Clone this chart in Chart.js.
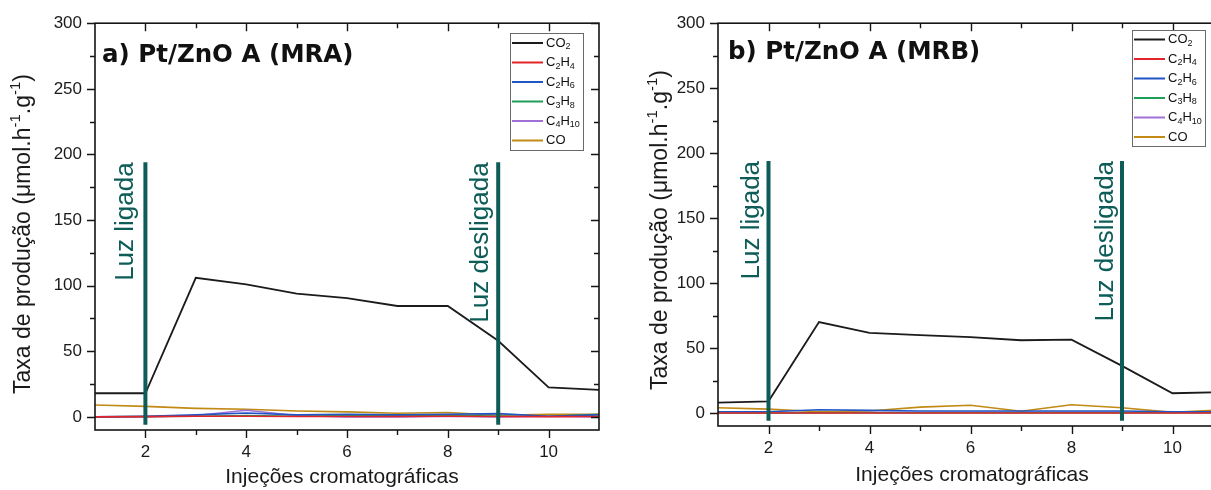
<!DOCTYPE html>
<html>
<head>
<meta charset="utf-8">
<script src="https://cdn.jsdelivr.net/npm/chart.js@4.4.1/dist/chart.umd.min.js"></script>
<style>
  html, body { margin: 0; padding: 0; background: #fff; overflow: hidden; width: 1211px; height: 490px; }
  .panel { position: absolute; top: 0; }
  #panelA { left: 0; }
  #panelB { left: 610px; }
</style>
</head>
<body>
<canvas id="panelA" class="panel" width="610" height="490"></canvas>
<canvas id="panelB" class="panel" width="640" height="490"></canvas>
<script>
// Injection number (x) and axis ticks
const injections = [1, 2, 3, 4, 5, 6, 7, 8, 9, 10, 11];
const xTicks = [2, 4, 6, 8, 10];
const xMinorTicks = [3, 5, 7, 9];
const yTicks = [0, 50, 100, 150, 200, 250, 300];
const yMinorTicks = [25, 75, 125, 175, 225, 275];

// Gas names and line colours
const gases = ['CO2', 'C2H4', 'C2H6', 'C3H8', 'C4H10', 'CO'];
const gasColors = ['#1b1b1b', '#e3242b', '#1f55c6', '#1f9e57', '#a070d6', '#c08a14'];

// Production rate (µmol.h-1.g-1), reactor MRA
const co2MRA  = [18, 18, 106, 101, 94, 90.5, 84.5, 84.5, 58, 22.5, 20.5];
const c2h4MRA = [0, 0.2, 0.5, 0.5, 0.3, 0.3, 0.3, 0.5, 0.3, 0.2, 0.3];
const c2h6MRA = [0, 0.5, 1.5, 3, 1.5, 2, 1.5, 2, 2.5, 0.5, 1.5];
const c3h8MRA = [0, 0.3, 0.5, 1, 0.5, 1, 1, 1.5, 0.5, 0.5, 2];
const c4h10MRA = [0, 0, 1, 5, 1, 0, 0, 0.5, 0, 0.5, 0];
const coMRA   = [9, 8, 6.5, 5.8, 4.5, 3.8, 2.8, 3.3, 1.2, 2, 2];

// Production rate (µmol.h-1.g-1), reactor MRB
const co2MRB  = [8, 9, 70, 61.7, 60, 58.4, 56, 56.5, 36.3, 15.2, 16];
const c2h4MRB = [0, 0, 0, 0, 0, 0, 0, 0, 0, 0, 0];
const c2h6MRB = [1, 1, 2.5, 2, 1.5, 1.5, 1.5, 1.5, 1.5, 1, 1];
const c3h8MRB = [0, 0, 0.2, 0.2, 0.2, 0.2, 0.2, 0.2, 0.2, 0.2, 0.2];
const c4h10MRB = [0, 0, 0.2, 0.3, 0.3, 0.5, 0.5, 0.5, 0.5, 0.5, 0.5];
const coMRB   = [4, 3, 1, 1.5, 4.5, 6, 1.3, 6.3, 4, 0.5, 2.5];

// Light switched on / off (injection number) and the marker extent
const lightOn = 2;
const lightOff = 9;
const markerTop = 194;
const markerBottom = -6;

const TEAL = '#0d5c58';
const SANS = '"Liberation Sans", Arial, sans-serif';

// Draws a string where digits after letters become subscripts (chemical formulas)
function drawFormula(ctx, text, x, y, size) {
  const parts = text.match(/[A-Za-z]+|\d+/g);
  let cx = x;
  parts.forEach(p => {
    const isSub = /\d/.test(p);
    ctx.font = (isSub ? Math.round(size * 0.7) : size) + 'px ' + SANS;
    ctx.fillText(p, cx, isSub ? y + size * 0.3 : y);
    cx += ctx.measureText(p).width;
  });
}

// Draws a string made of [text, isSuperscript] pieces
function drawRich(ctx, pieces, x, y, size, align) {
  let total = 0;
  pieces.forEach(([t, sup]) => {
    ctx.font = (sup ? Math.round(size * 0.65) : size) + 'px ' + SANS;
    total += ctx.measureText(t).width;
  });
  let cx = align === 'center' ? x - total / 2 : x;
  pieces.forEach(([t, sup]) => {
    ctx.font = (sup ? Math.round(size * 0.65) : size) + 'px ' + SANS;
    ctx.fillText(t, cx, sup ? y - size * 0.42 : y);
    cx += ctx.measureText(t).width;
  });
}

const yTitle = [['Taxa de produção (μmol.h', false], ['-1', true], ['.g', false], ['-1', true], [')', false]];
const xTitle = [['Injeções cromatográficas', false]];

const framePlugin = {
  id: 'frame',
  afterDatasetsDraw(chart, args, opts) {
    const { ctx, chartArea: { left, right, top, bottom }, scales: { x, y } } = chart;
    ctx.save();
    // light on/off markers with their labels
    [[lightOn, 'Luz ligada', opts.onGap], [lightOff, 'Luz desligada', opts.offGap]].forEach(([v, label, gap]) => {
      const px = x.getPixelForValue(v);
      const y1 = y.getPixelForValue(markerTop);
      const y2 = y.getPixelForValue(markerBottom);
      ctx.strokeStyle = TEAL;
      ctx.lineWidth = 4;
      ctx.beginPath();
      ctx.moveTo(px, y1);
      ctx.lineTo(px, y2);
      ctx.stroke();
      ctx.save();
      ctx.translate(px - gap, y1);
      ctx.rotate(-Math.PI / 2);
      ctx.fillStyle = TEAL;
      ctx.font = '26px ' + SANS;
      ctx.textAlign = 'right';
      ctx.textBaseline = 'alphabetic';
      ctx.fillText(label, 0, 0);
      ctx.restore();
    });
    // axis frame
    ctx.strokeStyle = '#151515';
    ctx.lineWidth = 1.6;
    ctx.strokeRect(left, top, right - left, bottom - top);
    ctx.lineWidth = 1.4;
    const major = 8, minor = 5;
    ctx.beginPath();
    xTicks.concat(xMinorTicks).forEach(v => {
      const px = Math.round(x.getPixelForValue(v)) + 0.5;
      const len = xTicks.includes(v) ? major : minor;
      ctx.moveTo(px, bottom); ctx.lineTo(px, bottom + len);
      ctx.moveTo(px, top); ctx.lineTo(px, top + len);
    });
    yTicks.concat(yMinorTicks).forEach(v => {
      const py = Math.round(y.getPixelForValue(v)) + 0.5;
      const len = yTicks.includes(v) ? major : minor;
      ctx.moveTo(left, py); ctx.lineTo(left - len, py);
      ctx.moveTo(right, py); ctx.lineTo(right - len, py);
    });
    ctx.stroke();
    ctx.restore();
  },
  afterDraw(chart, args, opts) {
    const { ctx } = chart;
    ctx.save();
    // panel title
    ctx.fillStyle = '#111';
    ctx.font = 'bold 24.5px "DejaVu Sans", Verdana, sans-serif';
    ctx.textBaseline = 'alphabetic';
    ctx.fillText(opts.title, opts.titleX, opts.titleY);
    // axis titles
    ctx.fillStyle = '#1a1a1a';
    drawRich(ctx, xTitle, opts.xTitleX, opts.xTitleY, 21, 'center');
    ctx.save();
    ctx.translate(opts.yTitleX, opts.yTitleY);
    ctx.rotate(-Math.PI / 2);
    drawRich(ctx, yTitle, 0, 7, 23, 'center');
    ctx.restore();
    // legend box
    const lg = opts.legend;
    ctx.fillStyle = '#fff';
    ctx.fillRect(lg.x, lg.y, lg.w, lg.h);
    ctx.strokeStyle = '#6a6a6a';
    ctx.lineWidth = 1;
    ctx.strokeRect(lg.x + 0.5, lg.y + 0.5, lg.w, lg.h);
    chart.data.datasets.forEach((ds, i) => {
      const ry = lg.y + lg.first + i * lg.step;
      ctx.strokeStyle = ds.borderColor;
      ctx.lineWidth = 2;
      ctx.beginPath();
      ctx.moveTo(lg.x + 2, ry);
      ctx.lineTo(lg.x + 33, ry);
      ctx.stroke();
      ctx.fillStyle = '#111';
      ctx.textBaseline = 'middle';
      drawFormula(ctx, ds.label, lg.x + 36, ry, 13);
    });
    ctx.restore();
  }
};

function buildDatasets(series) {
  return series.map((vals, i) => ({
    label: gases[i],
    data: vals.map((v, k) => ({ x: injections[k], y: v })),
    borderColor: gasColors[i],
    backgroundColor: gasColors[i],
    borderWidth: i === 0 ? 1.8 : 1.6,
    pointRadius: 0,
    tension: 0,
    fill: false
  }));
}

function makePanel(id, series, layout, frameOpts) {
  const tickFont = { family: SANS, size: 17 };
  return new Chart(document.getElementById(id), {
    type: 'line',
    data: { datasets: buildDatasets(series) },
    options: {
      responsive: false,
      animation: false,
      events: [],
      layout: { padding: { left: 0, top: layout.top, right: layout.right, bottom: 0 } },
      plugins: { legend: { display: false }, tooltip: { enabled: false }, frame: frameOpts },
      scales: {
        x: {
          type: 'linear', min: 1, max: 11,
          afterBuildTicks: s => { s.ticks = xTicks.map(v => ({ value: v })); },
          afterFit: s => { s.height = layout.xHeight; },
          grid: { display: false, drawTicks: false },
          border: { display: false },
          ticks: { font: tickFont, color: '#1a1a1a', padding: 12, maxRotation: 0, autoSkip: false }
        },
        y: {
          type: 'linear', min: -10, max: 300,
          afterBuildTicks: s => { s.ticks = yTicks.map(v => ({ value: v })); },
          afterFit: s => { s.width = layout.yWidth; },
          grid: { display: false, drawTicks: false },
          border: { display: false },
          ticks: { font: tickFont, color: '#1a1a1a', padding: 13, autoSkip: false }
        }
      }
    },
    plugins: [framePlugin]
  });
}

makePanel('panelA', [co2MRA, c2h4MRA, c2h6MRA, c3h8MRA, c4h10MRA, coMRA],
  { top: 22, right: 11, xHeight: 60, yWidth: 95 },
  {
    title: 'a) Pt/ZnO A (MRA)', titleX: 102, titleY: 62,
    xTitleX: 342, xTitleY: 483, yTitleX: 23, yTitleY: 234,
    onGap: 12, offGap: 10,
    legend: { x: 510, y: 33, w: 73, h: 117, first: 10, step: 19.5 }
  });

makePanel('panelB', [co2MRB, c2h4MRB, c2h6MRB, c3h8MRB, c4h10MRB, coMRB],
  { top: 19, right: 27, xHeight: 64, yWidth: 108 },
  {
    title: 'b) Pt/ZnO A (MRB)', titleX: 118, titleY: 59,
    xTitleX: 362, xTitleY: 481, yTitleX: 50, yTitleY: 230,
    onGap: 10, offGap: 9,
    legend: { x: 522, y: 30, w: 73, h: 116, first: 9.5, step: 19.5 }
  });
</script>
</body>
</html>
